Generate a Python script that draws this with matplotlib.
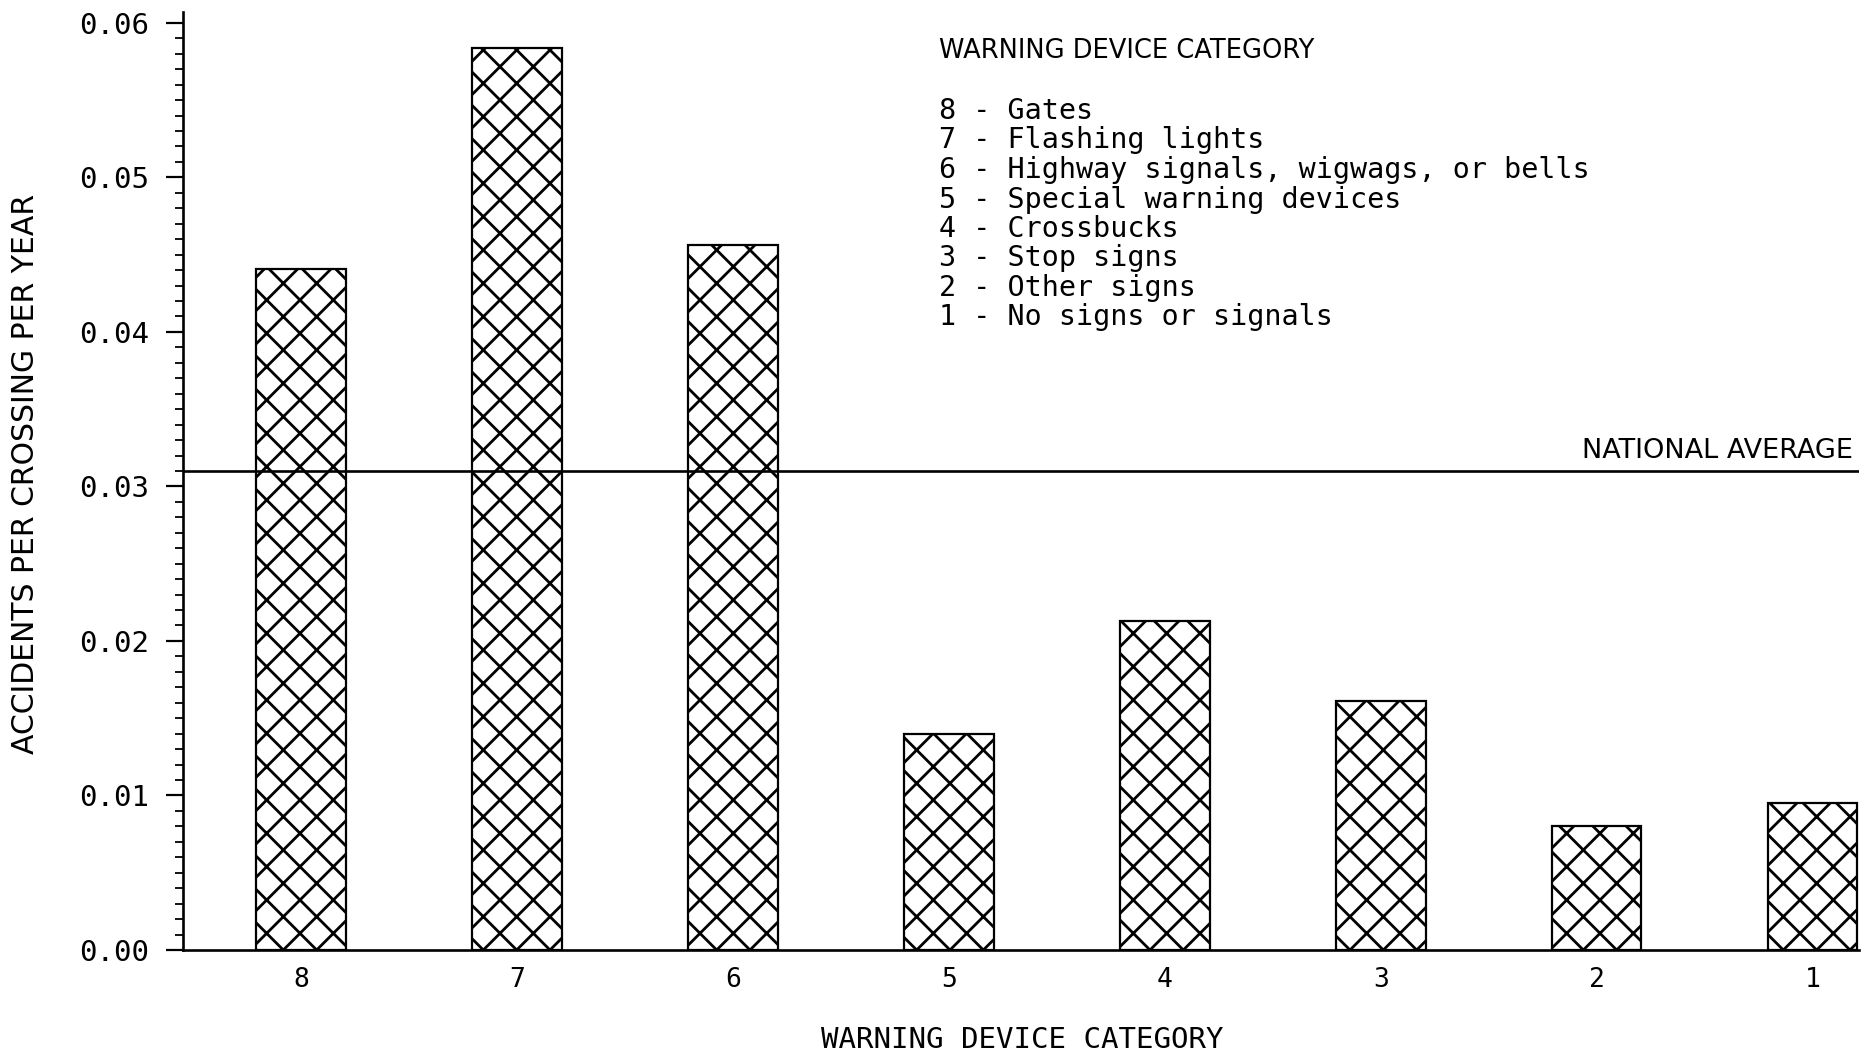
import matplotlib
matplotlib.use("Agg")
import matplotlib.pyplot as plt
import numpy as np
from matplotlib.ticker import MultipleLocator
import matplotlib.transforms as mtransforms

# ---- data ----
categories = ['8', '7', '6', '5', '4', '3', '2', '1']
rates = [0.0441, 0.0584, 0.0456, 0.0140, 0.0213, 0.0161, 0.0080, 0.0095]
national_average = 0.031
y_ticks = [0.00, 0.01, 0.02, 0.03, 0.04, 0.05, 0.06]
y_tick_labels = ['0.00', '0.01', '0.02', '0.03', '0.04', '0.05', '0.06']
legend_title = 'WARNING DEVICE CATEGORY'
legend_items = [
    '8 - Gates',
    '7 - Flashing lights',
    '6 - Highway signals, wigwags, or bells',
    '5 - Special warning devices',
    '4 - Crossbucks',
    '3 - Stop signs',
    '2 - Other signs',
    '1 - No signs or signals',
]
x_label = 'WARNING DEVICE CATEGORY'
y_label = 'ACCIDENTS PER CROSSING PER YEAR'
avg_label = 'NATIONAL AVERAGE'

# ---- figure ----
DPI = 100
W, H = 1871, 1055
plt.rcParams['hatch.linewidth'] = 2.0
fig = plt.figure(figsize=(W / DPI, H / DPI), dpi=DPI)
fig.patch.set_facecolor('white')
ax = fig.add_axes([183 / W, 105 / H, (1859 - 183) / W, (950 - 12) / H])

x = np.arange(len(categories))
ax.bar(x, rates, width=0.415, facecolor='white', edgecolor='black',
       linewidth=1.6, hatch='x', zorder=2)

ax.axhline(national_average, color='black', linewidth=1.9, zorder=3)
trans = mtransforms.blended_transform_factory(ax.transAxes, ax.transData)
ax.annotate(avg_label, xy=(1.0, national_average), xycoords=trans,
            xytext=(-4, 5), textcoords='offset points', ha='right', va='bottom',
            fontsize=19.5, family='DejaVu Sans')

ax.set_xlim(-0.547, 7.215)
ax.set_ylim(0, 0.0607)

ax.set_xticks(x)
ax.set_xticklabels(categories, family='DejaVu Sans Mono', fontsize=19)
ax.tick_params(axis='x', length=0, pad=12)

ax.set_yticks(y_ticks)
ax.set_yticklabels(y_tick_labels, family='DejaVu Sans Mono', fontsize=21)
ax.yaxis.set_minor_locator(MultipleLocator(0.001))
ax.tick_params(axis='y', which='major', direction='out', length=12.5, width=1.6, pad=12)
ax.tick_params(axis='y', which='minor', direction='out', length=6, width=1.3)

for s in ['top', 'right']:
    ax.spines[s].set_visible(False)
for s in ['left', 'bottom']:
    ax.spines[s].set_linewidth(1.9)

# legend-like text block
lx = 939 / W
fig.text(lx, 1 - 51 / H, legend_title, fontsize=18.5, family='DejaVu Sans',
         ha='left', va='center')
for i, item in enumerate(legend_items):
    fig.text(lx, 1 - (111 + i * 29.5) / H, item, fontsize=20.4,
             family='DejaVu Sans Mono', ha='left', va='center')

fig.text(26 / W, 1 - 474 / H, y_label, rotation=90, fontsize=21.5,
         family='DejaVu Sans', ha='center', va='center')
fig.text(1022 / W, 15 / H, x_label, fontsize=21, family='DejaVu Sans Mono',
         ha='center', va='center')

fig.savefig('out.png', dpi=DPI)
